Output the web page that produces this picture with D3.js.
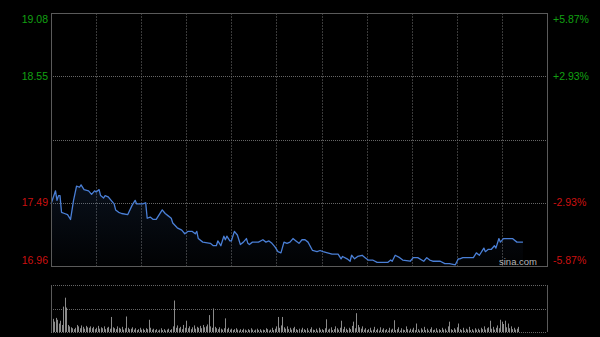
<!DOCTYPE html>
<meta charset="utf-8">
<style>

html, body {
  margin: 0;
  padding: 0;
  overflow: hidden;
  background: #000;
}

svg {
  display: block;
}

.label {
  font-family: "Liberation Sans", Arial, sans-serif;
  font-size: 10.5px;
}

</style>
<svg width="600" height="337"></svg>
<script src="https://d3js.org/d3.v7.min.js"></script>
<script>

// minute of session (HK day, 330 min) and price
var minutes = [0, 3, 4, 5, 6, 7, 9, 11, 13, 14, 15, 17, 19, 20, 22, 25, 27, 29, 30, 32,
  33, 35, 36, 38, 40, 42, 43, 45, 47, 51, 54, 56, 57, 61, 63, 64, 66, 68, 70, 74,
  76, 78, 80, 81, 84, 87, 89, 91, 94, 96, 97, 98, 101, 106, 108, 110, 111, 113, 115, 116,
  117, 119, 120, 122, 124, 126, 128, 130, 131, 132, 134, 138, 141, 143, 145, 147, 149, 151, 153, 155,
  157, 159, 161, 163, 165, 167, 169, 171, 174, 177, 179, 181, 184, 187, 191, 193, 194, 197, 199, 200,
  202, 204, 207, 209, 211, 214, 217, 224, 226, 227, 229, 232, 234, 239, 241, 244, 248, 250, 252, 254,
  259, 262, 265, 269, 271, 272, 274, 281, 283, 285, 288, 289, 291, 293, 295, 296, 298, 299, 301, 307,
  310, 311, 314];

var prices = [17.48, 17.59, 17.51, 17.55, 17.55, 17.41, 17.40, 17.39, 17.35, 17.43, 17.51, 17.63, 17.62, 17.64, 17.60, 17.59, 17.56, 17.59, 17.58, 17.60,
  17.55, 17.53, 17.55, 17.54, 17.51, 17.48, 17.43, 17.41, 17.40, 17.39, 17.47, 17.51, 17.48, 17.48, 17.49, 17.36, 17.37, 17.35, 17.35, 17.43,
  17.40, 17.38, 17.36, 17.32, 17.28, 17.26, 17.23, 17.25, 17.25, 17.23, 17.25, 17.19, 17.16, 17.15, 17.13, 17.13, 17.17, 17.13, 17.21, 17.18,
  17.21, 17.17, 17.17, 17.25, 17.22, 17.14, 17.16, 17.19, 17.15, 17.14, 17.16, 17.16, 17.18, 17.16, 17.17, 17.15, 17.12, 17.08, 17.07, 17.16,
  17.15, 17.16, 17.19, 17.17, 17.15, 17.18, 17.18, 17.16, 17.09, 17.08, 17.09, 17.08, 17.07, 17.06, 17.06, 17.02, 17.04, 17.02, 17.00, 17.05,
  17.02, 17.04, 17.05, 17.03, 17.01, 17.01, 16.99, 16.99, 17.01, 17.00, 17.05, 17.03, 17.01, 17.00, 17.03, 17.03, 17.00, 17.03, 17.01, 17.00,
  17.00, 16.98, 16.98, 16.97, 17.02, 17.02, 17.03, 17.03, 17.07, 17.05, 17.11, 17.08, 17.10, 17.10, 17.13, 17.11, 17.19, 17.16, 17.19, 17.19,
  17.16, 17.16, 17.16];

// volume per minute, relative units (100 = panel top)
var volumes = [51, 28, 22, 30, 26, 18, 24, 15, 54, 73, 52, 15, 12, 10, 8,
  6, 9, 15, 12, 8, 14, 11, 7, 13, 10, 9, 12, 8, 11, 6,
  9, 13, 7, 10, 8, 12, 6, 9, 11, 7, 32, 10, 8, 6, 12,
  9, 7, 11, 5, 8, 33, 9, 6, 7, 10, 5, 8, 4, 6, 9,
  5, 7, 4, 8, 6, 26, 9, 5, 7, 4, 6, 3, 5, 8, 4,
  6, 3, 5, 7, 4, 6, 12, 67, 9, 14, 8, 11, 6, 15, 9,
  24, 8, 12, 6, 10, 14, 7, 11, 9, 13, 8, 15, 10, 12, 16,
  36, 12, 9, 50, 11, 8, 6, 10, 7, 5, 8, 29, 6, 9, 5,
  7, 4, 6, 8, 5, 3, 6, 4, 7, 5, 3, 6, 4, 8, 5,
  3, 5, 7, 4, 6, 3, 5, 4, 8, 6, 3, 5, 9, 4, 7,
  12, 32, 9, 14, 32, 10, 7, 12, 6, 9, 5, 8, 11, 6, 4,
  7, 5, 9, 6, 4, 8, 3, 6, 10, 5, 4, 7, 3, 9, 5,
  6, 4, 8, 27, 5, 7, 10, 4, 6, 12, 8, 5, 9, 24, 6,
  11, 7, 4, 9, 6, 13, 22, 8, 40, 15, 10, 7, 12, 5, 8,
  4, 6, 9, 3, 5, 11, 4, 7, 3, 10, 5, 8, 4, 6, 3,
  9, 5, 7, 25, 4, 6, 10, 3, 8, 5, 4, 12, 6, 3, 7,
  5, 9, 4, 18, 6, 3, 8, 5, 11, 4, 7, 3, 6, 10, 4,
  5, 8, 3, 6, 4, 9, 5, 7, 3, 12, 22, 6, 4, 8, 5,
  10, 18, 6, 4, 9, 3, 7, 5, 11, 4, 6, 3, 8, 5, 7,
  4, 9, 6, 12, 5, 8, 10, 24, 7, 11, 5, 9, 14, 8, 26,
  22, 17, 24, 10, 18, 8, 12, 6, 9, 5, 7, 11];

var prevClose = 18.02;
var priceTicks = [19.08, 18.55, 18.02, 17.49, 16.96];
var priceLabels = ["19.08", "18.55", "", "17.49", "16.96"];
var pctLabels = ["+5.87%", "+2.93%", "", "-2.93%", "-5.87%"];
var timeTicks = [30, 60, 90, 120, 150, 180, 210, 240, 270, 300];

var left = 51, right = 547;
var svg = d3.select("svg");

var x = d3.scaleLinear().domain([0, 330]).range([left, right]);
var y = d3.scaleLinear().domain([16.96, 19.08]).range([266, 13]);
var yv = d3.scaleLinear().domain([0, 100]).range([332, 285]);

var defs = svg.append("defs");
var grad = defs.append("linearGradient")
    .attr("id", "fill")
    .attr("x1", 0).attr("y1", 0).attr("x2", 0).attr("y2", 1);
grad.append("stop").attr("offset", "0%").attr("stop-color", "#3a64a8").attr("stop-opacity", 0.16);
grad.append("stop").attr("offset", "100%").attr("stop-color", "#3a64a8").attr("stop-opacity", 0.02);

// grid
svg.append("g").selectAll("line")
  .data(timeTicks)
  .enter().append("line")
    .attr("x1", function(d) { return Math.round(x(d)) + 0.5; })
    .attr("x2", function(d) { return Math.round(x(d)) + 0.5; })
    .attr("y1", y(19.08))
    .attr("y2", y(16.96))
    .attr("stroke", "#3a3a3a")
    .attr("stroke-dasharray", "2,1");

svg.append("g").selectAll("line")
  .data(priceTicks.slice(1, 4))
  .enter().append("line")
    .attr("x1", left)
    .attr("x2", right)
    .attr("y1", function(d) { return Math.round(y(d)) + 0.5; })
    .attr("y2", function(d) { return Math.round(y(d)) + 0.5; })
    .attr("stroke", "#666")
    .attr("stroke-dasharray", "1,1");

// price area + line
var pts = minutes.map(function(m, i) { return [m, prices[i]]; });

svg.append("path")
    .datum(pts)
    .attr("fill", "url(#fill)")
    .attr("d", d3.area()
      .x(function(d) { return x(d[0]); })
      .y0(y(16.96))
      .y1(function(d) { return y(d[1]); }));

svg.append("path")
    .datum(pts)
    .attr("fill", "none")
    .attr("stroke", "#4a7fd6")
    .attr("stroke-width", 1.3)
    .attr("stroke-linejoin", "round")
    .attr("d", d3.line()
      .x(function(d) { return x(d[0]); })
      .y(function(d) { return y(d[1]); }));

// frame
svg.append("rect")
    .attr("x", left + 0.5)
    .attr("y", Math.round(y(19.08)) + 0.5)
    .attr("width", right - left)
    .attr("height", Math.round(y(16.96)) - Math.round(y(19.08)))
    .attr("fill", "none")
    .attr("stroke", "#5a5a5a");

svg.append("text")
    .attr("class", "label")
    .attr("x", 537)
    .attr("y", 265)
    .attr("text-anchor", "end")
    .attr("fill", "#b8b8b8")
    .style("font-size", "9.5px")
    .text("sina.com");

// axis labels
svg.append("g").selectAll("text")
  .data(priceTicks)
  .enter().append("text")
    .attr("class", "label")
    .attr("x", 48)
    .attr("y", function(d, i) { return y(d) + (i === 0 ? 6 : i === 4 ? -6 : 0); })
    .attr("dy", "0.35em")
    .attr("text-anchor", "end")
    .attr("fill", function(d) { return d >= prevClose ? "#12a012" : "#cc1010"; })
    .text(function(d, i) { return priceLabels[i]; });

svg.append("g").selectAll("text")
  .data(priceTicks)
  .enter().append("text")
    .attr("class", "label")
    .attr("x", 553)
    .attr("y", function(d, i) { return y(d) + (i === 0 ? 6 : i === 4 ? -6 : 0); })
    .attr("dy", "0.35em")
    .attr("fill", function(d) { return d >= prevClose ? "#12a012" : "#cc1010"; })
    .text(function(d, i) { return pctLabels[i]; });

// volume panel
svg.append("g").selectAll("line")
  .data([0, 50, 100])
  .enter().append("line")
    .attr("x1", left)
    .attr("x2", right)
    .attr("y1", function(d) { return Math.round(yv(d)) + 0.5; })
    .attr("y2", function(d) { return Math.round(yv(d)) + 0.5; })
    .attr("stroke", "#666")
    .attr("stroke-dasharray", "1,1");

svg.append("g").selectAll("line")
  .data(volumes)
  .enter().append("line")
    .attr("x1", function(d, i) { return Math.round(x(i)) + 0.5; })
    .attr("x2", function(d, i) { return Math.round(x(i)) + 0.5; })
    .attr("y1", yv(0))
    .attr("y2", function(d) { return yv(d); })
    .attr("stroke", "#8a8a8a");

svg.append("g").selectAll("line")
  .data([left, right])
  .enter().append("line")
    .attr("x1", function(d) { return d + 0.5; })
    .attr("x2", function(d) { return d + 0.5; })
    .attr("y1", yv(100))
    .attr("y2", yv(0))
    .attr("stroke", "#5a5a5a");

</script>
